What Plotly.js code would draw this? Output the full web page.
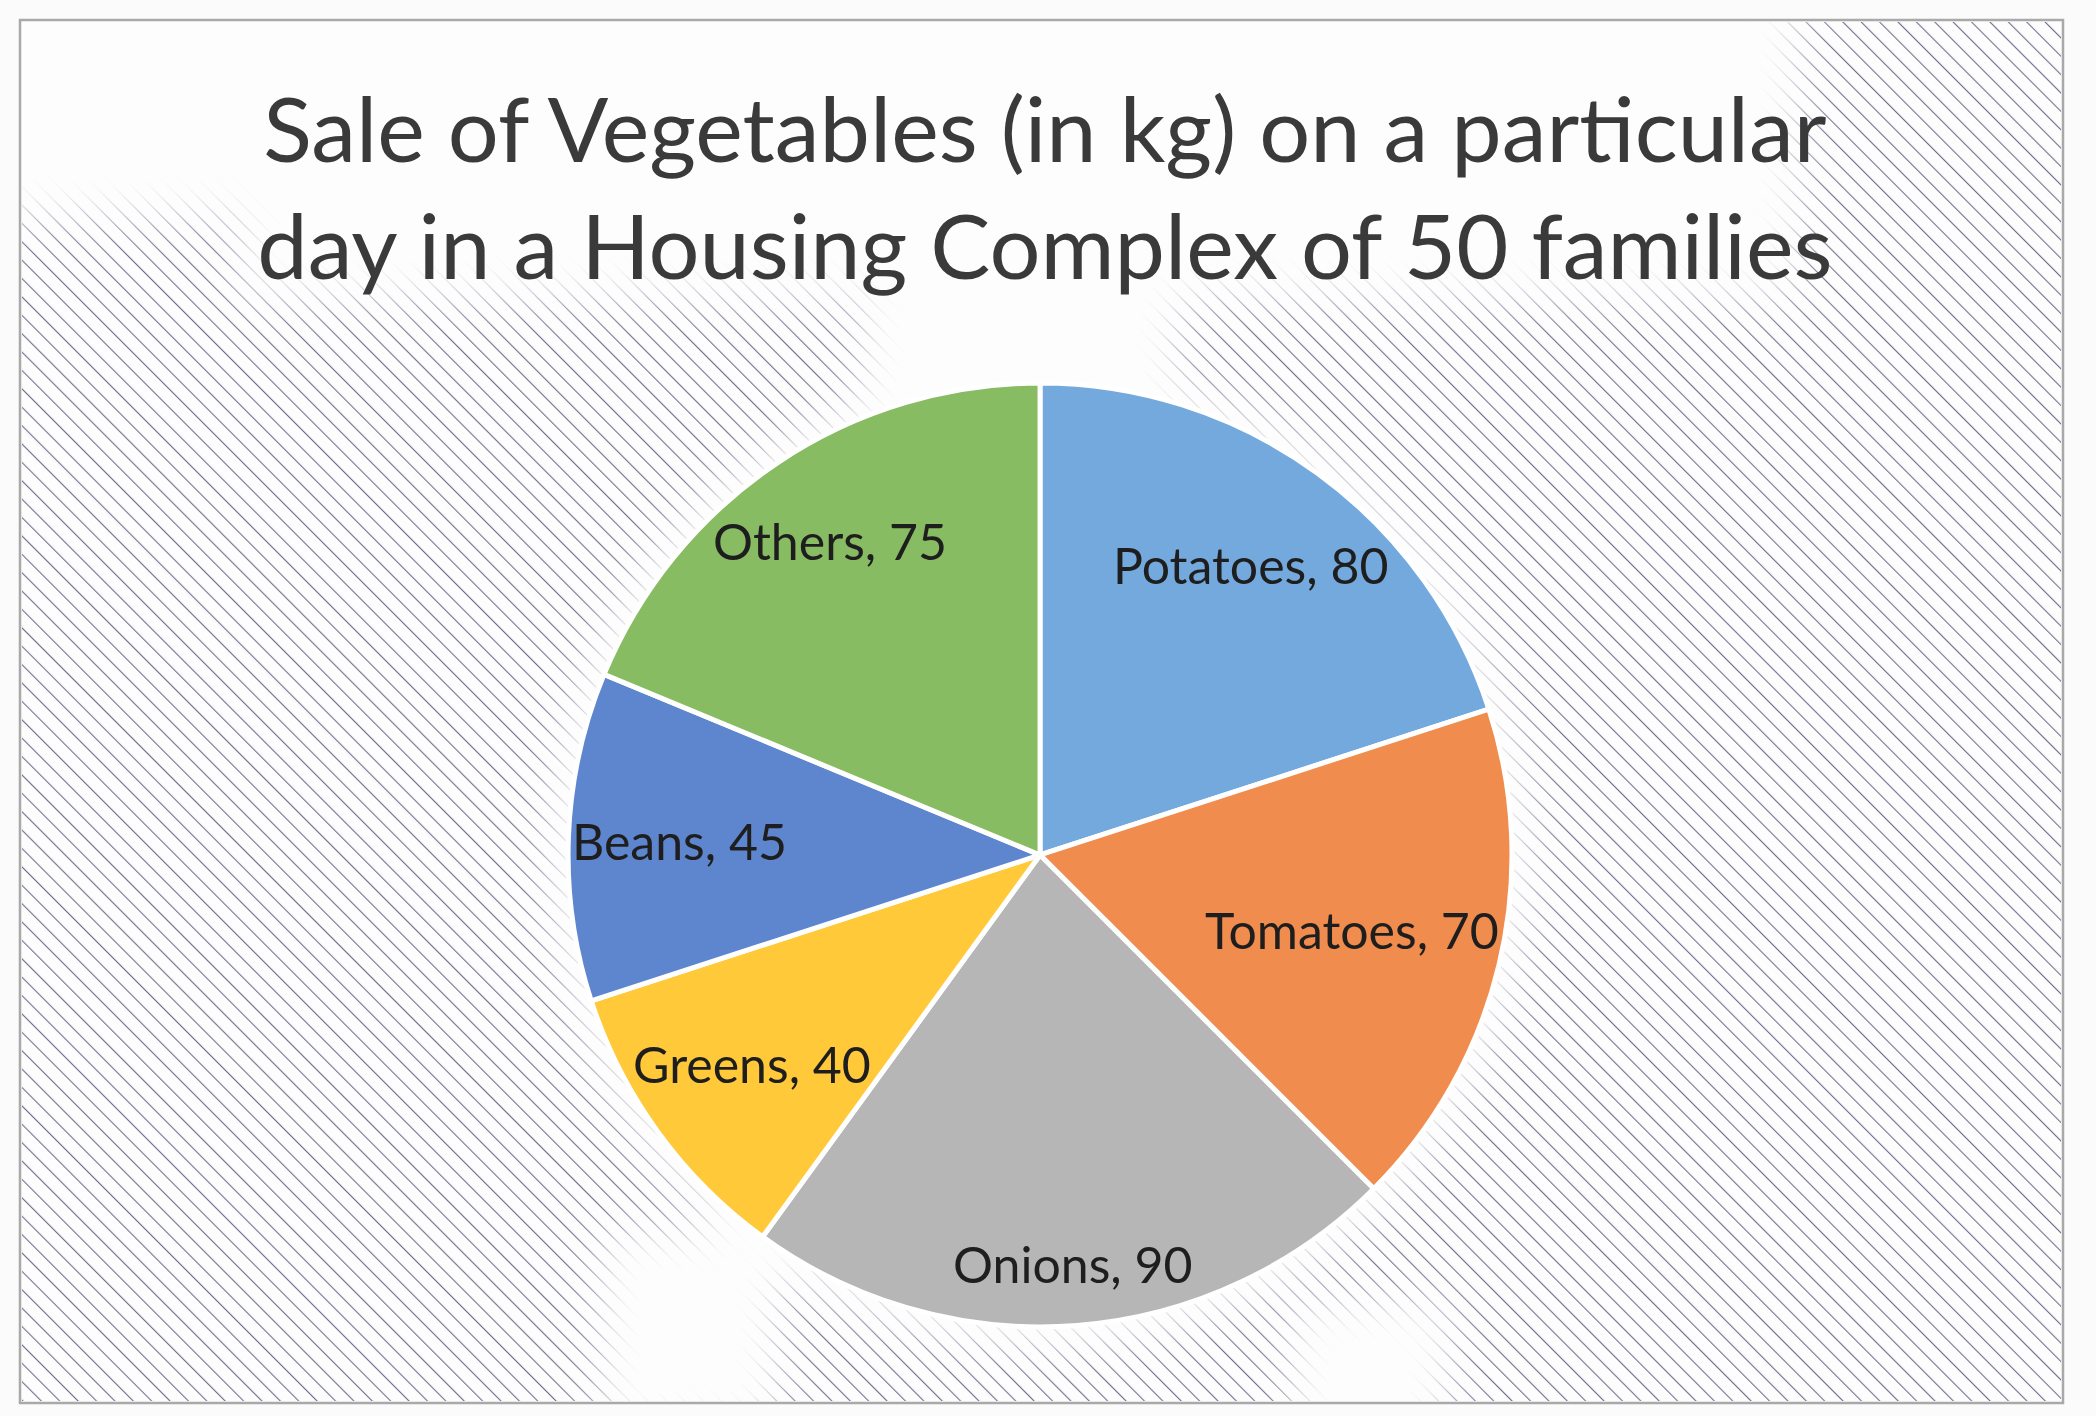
<!DOCTYPE html>
<html>
<head>
<meta charset="utf-8">
<script src="https://cdn.plot.ly/plotly-3.0.1.min.js"></script>
<style>
  html, body { margin: 0; padding: 0; background: #fbfbfb; }
  #chart { width: 2096px; height: 1416px; }
</style>
</head>
<body>
<div id="chart"></div>
<script>
// ---- data ----
const categories = ["Potatoes", "Tomatoes", "Onions", "Greens", "Beans", "Others"];
const salesKg = [80, 70, 90, 40, 45, 75];
const sliceColors = ["#74A9DE", "#F08C4E", "#B6B6B6", "#FFC93A", "#5E86CE", "#88BC63"];
const chartTitle = "Sale of Vegetables (in kg) on a particular<br>day in a Housing Complex of 50 families";

// ---- page / style settings ----
const W = 2096, H = 1416;
const FONT = "Lato, 'Open Sans', sans-serif";
const labelSize = 50;
const pieDomain = { x: [0.271, 0.7214], y: [0.0629, 0.7295] };

// ---- decorative hatched background (SVG image) ----
const bgSvg =
  '<svg xmlns="http://www.w3.org/2000/svg" width="' + W + '" height="' + H + '" viewBox="0 0 ' + W + ' ' + H + '">' +
  '<defs>' +
  '<pattern id="h" width="13" height="13" patternUnits="userSpaceOnUse" patternTransform="rotate(-45)">' +
  '<line x1="0" y1="0" x2="0" y2="13" stroke="#6f6f8c" stroke-width="2.2"/></pattern>' +
  '<filter id="b" x="-50%" y="-50%" width="200%" height="200%"><feGaussianBlur stdDeviation="20"/></filter>' +
  '<mask id="m"><rect x="0" y="0" width="' + W + '" height="' + H + '" fill="white"/>' +
  '<g filter="url(#b)" fill="black">' +
  '<rect x="-100" y="-100" width="360" height="320"/>' +
  '<rect x="240" y="-100" width="1560" height="400"/>' +
  '<rect x="860" y="240" width="320" height="180"/>' +
  '<circle cx="1040" cy="855" r="492"/>' +
  '<rect x="1290" y="1300" width="160" height="140"/>' +
  '<rect x="600" y="1230" width="180" height="200"/>' +
  '</g></mask>' +
  '</defs>' +
  '<rect x="0" y="0" width="' + W + '" height="' + H + '" fill="#fbfbfb"/>' +
  '<rect x="20" y="20" width="2043" height="1383" fill="#fdfdfd"/>' +
  '<g mask="url(#m)"><rect x="22" y="22" width="2039" height="1379" fill="url(#h)"/></g>' +
  '<rect x="20" y="20" width="2043" height="1383" fill="none" stroke="#a9a9a9" stroke-width="2.5"/>' +
  '</svg>';
const bgUri = "data:image/svg+xml;charset=utf-8," + encodeURIComponent(bgSvg);

// ---- slice labels: placed on each slice's bisector, as far out as the text box fits ----
const total = salesKg.reduce((a, b) => a + b, 0);
const ctx = document.createElement("canvas").getContext("2d");
ctx.font = labelSize + "px Lato";
const pxW = (pieDomain.x[1] - pieDomain.x[0]) * W;
const pxH = (pieDomain.y[1] - pieDomain.y[0]) * H;
const R = Math.min(pxW, pxH) / 2;
const cxPaper = (pieDomain.x[0] + pieDomain.x[1]) / 2;
const cyPaper = (pieDomain.y[0] + pieDomain.y[1]) / 2;
let cum = 0;
const labelAnnotations = categories.map((name, i) => {
  const text = name + ", " + salesKg[i];
  const mid = (cum + salesKg[i] / 2) / total * 2 * Math.PI; // clockwise from 12 o'clock
  cum += salesKg[i];
  const sx = Math.sin(mid), sy = -Math.cos(mid);   // screen direction (y down)
  const hw = ctx.measureText(text).width / 2, hh = labelSize * 0.5;
  let f = 0.87;
  while (f > 0.3) {
    const bx = sx * f * R, by = sy * f * R;
    const ok = [[-1, -1], [1, -1], [-1, 1], [1, 1]].every(([a, b]) => Math.hypot(bx + a * hw, by + b * hh) <= R);
    if (ok) break;
    f -= 0.005;
  }
  return {
    text: text,
    xref: "paper", yref: "paper",
    x: cxPaper + sx * f * R / W,
    y: cyPaper - sy * f * R / H,
    xanchor: "center", yanchor: "middle",
    showarrow: false,
    font: { family: FONT, size: labelSize, color: "#1e1e1e" }
  };
});

const trace = {
  type: "pie",
  labels: categories,
  values: salesKg,
  sort: false,
  direction: "clockwise",
  rotation: 0,
  marker: { colors: sliceColors, line: { color: "#ffffff", width: 5 } },
  textinfo: "none",
  hoverinfo: "label+value",
  showlegend: false,
  domain: pieDomain
};

const layout = {
  width: W,
  height: H,
  margin: { l: 0, r: 0, t: 0, b: 0 },
  paper_bgcolor: "#fbfbfb",
  plot_bgcolor: "#fbfbfb",
  showlegend: false,
  title: {
    text: chartTitle,
    font: { family: FONT, size: 90, color: "#3a3a3a" },
    x: 0.4985,
    xanchor: "center",
    y: 0.8855,
    yanchor: "top",
    yref: "paper"
  },
  annotations: labelAnnotations,
  images: [{
    source: bgUri,
    xref: "paper", yref: "paper",
    x: 0, y: 1, sizex: 1, sizey: 1,
    xanchor: "left", yanchor: "top",
    sizing: "stretch",
    layer: "below"
  }]
};

Plotly.newPlot("chart", [trace], layout, { displayModeBar: false, staticPlot: true });
</script>
</body>
</html>
